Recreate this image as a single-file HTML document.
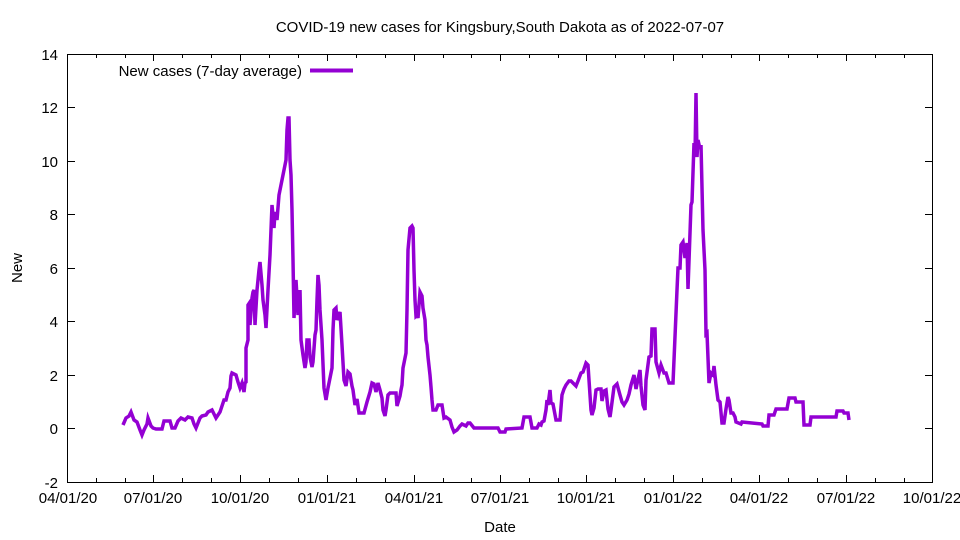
<!DOCTYPE html>
<html><head><meta charset="utf-8"><style>body{margin:0;background:#fff}svg{display:block}text{font-family:"Liberation Sans",sans-serif;font-size:15px;fill:#000}</style></head><body>
<svg width="960" height="540" viewBox="0 0 960 540">
<rect x="67.5" y="54.5" width="865" height="428" fill="none" stroke="#000" stroke-width="1"/>
<g stroke="#000" stroke-width="1">
<path d="M68 428.5h7M932 428.5h-7M68 375.5h7M932 375.5h-7M68 321.5h7M932 321.5h-7M68 268.5h7M932 268.5h-7M68 214.5h7M932 214.5h-7M68 161.5h7M932 161.5h-7M68 107.5h7M932 107.5h-7"/>
<path d="M153.5 482v-7M153.5 54v7M240.5 482v-7M240.5 54v7M327.5 482v-7M327.5 54v7M414.5 482v-7M414.5 54v7M500.5 482v-7M500.5 54v7M586.5 482v-7M586.5 54v7M673.5 482v-7M673.5 54v7M759.5 482v-7M759.5 54v7M846.5 482v-7M846.5 54v7"/>
<path d="M96.5 482v-4M96.5 54v4M125.5 482v-4M125.5 54v4M182.5 482v-4M182.5 54v4M211.5 482v-4M211.5 54v4M269.5 482v-4M269.5 54v4M298.5 482v-4M298.5 54v4M356.5 482v-4M356.5 54v4M385.5 482v-4M385.5 54v4M443.5 482v-4M443.5 54v4M471.5 482v-4M471.5 54v4M529.5 482v-4M529.5 54v4M558.5 482v-4M558.5 54v4M615.5 482v-4M615.5 54v4M644.5 482v-4M644.5 54v4M702.5 482v-4M702.5 54v4M731.5 482v-4M731.5 54v4M788.5 482v-4M788.5 54v4M817.5 482v-4M817.5 54v4M875.5 482v-4M875.5 54v4M904.5 482v-4M904.5 54v4"/>
</g>
<g text-anchor="end">
<text x="58" y="488">-2</text><text x="58" y="434">0</text><text x="58" y="381">2</text><text x="58" y="327">4</text><text x="58" y="274">6</text><text x="58" y="220">8</text><text x="58" y="167">10</text><text x="58" y="113">12</text><text x="58" y="60">14</text>
</g>
<g text-anchor="middle">
<text x="68" y="503">04/01/20</text><text x="153" y="503">07/01/20</text><text x="240" y="503">10/01/20</text><text x="327" y="503">01/01/21</text><text x="414" y="503">04/01/21</text><text x="500" y="503">07/01/21</text><text x="586" y="503">10/01/21</text><text x="673" y="503">01/01/22</text><text x="759" y="503">04/01/22</text><text x="846" y="503">07/01/22</text><text x="932" y="503">10/01/22</text>
<text x="500" y="32">COVID-19 new cases for Kingsbury,South Dakota as of 2022-07-07</text>
<text x="500" y="532">Date</text>
<text transform="translate(22,268) rotate(-90)">New</text>
</g>
<text x="302" y="76" text-anchor="end">New cases (7-day average)</text>
<path d="M310 70.5h43" stroke="#9400d3" stroke-width="4"/>
<polyline fill="none" stroke="#9400d3" stroke-width="3.5" stroke-linejoin="miter" points="123,425 126,418 129,416 131,412 134,420 137,422 140,430 142,435 144,430 147,424 148,418 151,426 153,428 156,429 162,429 164,421 170,421 172,428 175,428 178,421 181,418 185,420 188,417 192,418 194,424 196,428 200,418 202,416 206,415 208,412 212,410 214,414 216,418 218,415 220,412 222,406 224,400 226,400 228,392 230,388 231,376 232,373 236,375 238,382 240,388 242,383 244,392 245,383 246,382 246,348 248,340 248,305 250,302 250,325 252,298 253,292 254,290 255,325 257,290 259,270 260,262 262,285 263,300 265,315 266,328 268,290 270,255 271,230 272,205 273,215 274,228 275,212 277,220 279,195 281,185 283,175 285,165 286,160 287,130 288,118 289,118 290,160 291,175 292,210 293,260 294,318 296,280 298,315 300,290 301,340 303,355 305,368 306,362 307,340 309,340 310,357 312,367 313,362 315,335 316,330 317,300 318,275 319,285 320,310 322,340 324,388 326,400 328,388 330,378 332,368 333,330 334,310 336,308 337,320 340,312 342,345 344,380 346,386 348,372 350,374 352,386 353,390 355,405 357,399 359,413 364,413 367,402 370,392 372,383 374,384 376,392 378,383 380,390 382,398 383,410 385,416 386,410 388,395 390,393 396,393 397,406 400,396 401,390 402,385 403,368 405,358 406,353 407,310 408,250 410,228 412,226 413,228 414,270 415,300 416,316 417,315 418,318 419,305 420,292 422,296 423,308 425,320 426,340 427,345 428,357 430,375 431,387 432,400 433,410 436,410 438,405 442,405 444,418 446,417 450,420 452,427 454,432 457,430 460,426 462,424 466,426 468,423 470,423 474,428 498,428 500,432 505,432 506,429 522,428 524,417 530,417 532,428 537,428 539,424 541,425 542,422 544,421 546,410 547,400 548,405 550,390 551,403 553,404 556,420 560,420 562,395 564,389 566,385 569,381 571,381 573,383 576,386 578,381 581,373 583,372 586,363 588,365 591,410 592,415 594,408 596,390 598,389 601,389 602,401 604,391 606,390 608,409 610,417 611,410 614,387 617,384 620,395 622,402 624,405 627,400 629,394 631,385 634,375 636,389 637,384 640,370 641,386 643,405 645,410 646,380 649,357 651,356 652,329 655,329 656,362 659,373 661,365 664,373 666,373 669,383 673,383 674,360 677,290 678,268 680,268 681,245 683,242 685,258 687,243 688,289 691,205 692,202 694,143 695,157 696,93 697,157 698,140 700,149 701,145 703,230 705,270 706,334 707,333 709,383 711,373 713,375 714,366 716,385 718,400 720,402 722,423 724,423 726,409 728,397 729,400 731,413 733,413 735,417 736,422 741,424 742,422 762,424 763,426 768,426 769,415 774,415 776,409 787,409 789,398 795,398 796,402 803,402 804,425 810,425 811,417 836,417 837,411 843,411 844,413 848,413 849,420"/>
</svg>
</body></html>
